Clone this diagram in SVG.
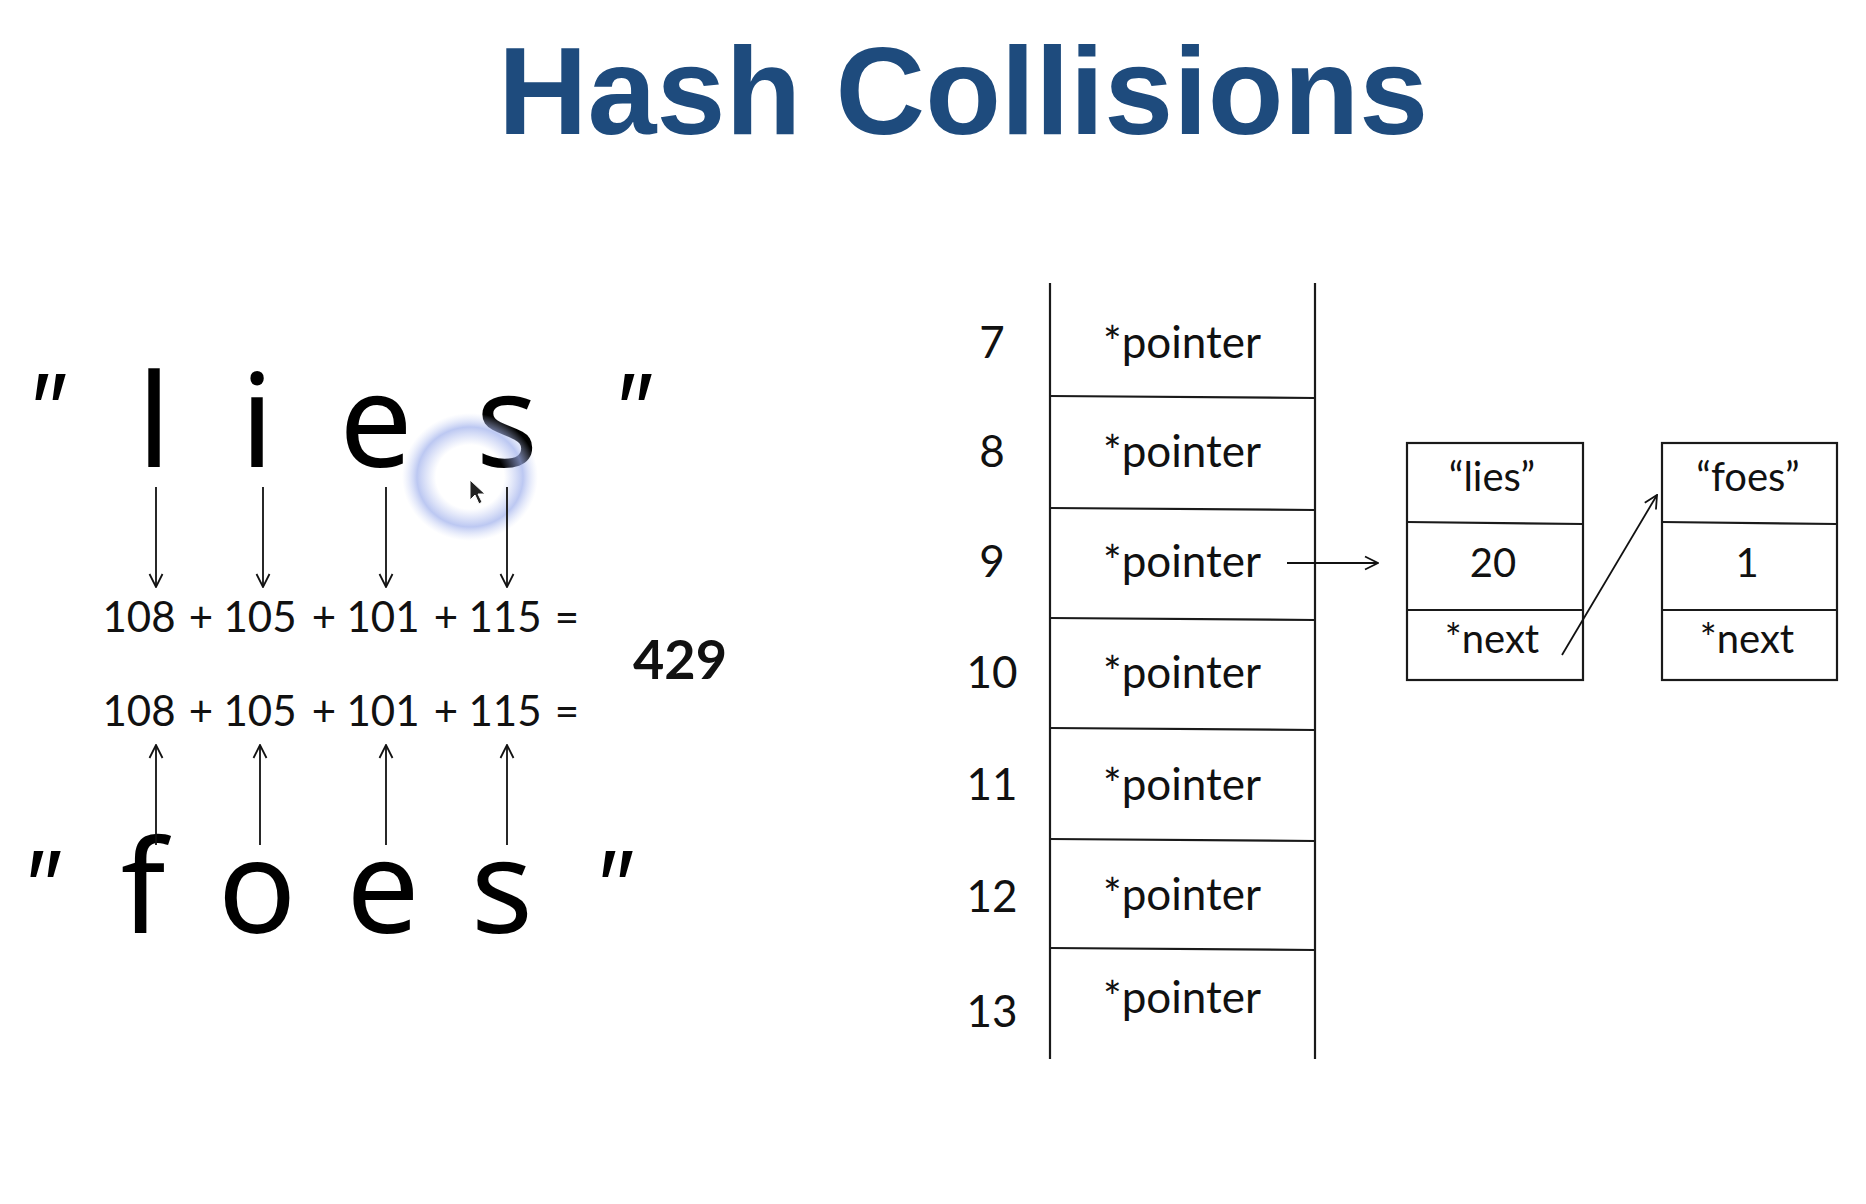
<svg xmlns="http://www.w3.org/2000/svg" width="1866" height="1204" viewBox="0 0 1866 1204">
<style>
.title{font-family:"Liberation Sans",Arial,sans-serif;font-weight:bold;font-size:124px;fill:#1e4b7d}
.big{font-family:"Noto Sans",sans-serif;font-size:130px;fill:#000;text-anchor:middle}
.q{font-family:"Noto Sans",sans-serif;font-size:100px;font-style:italic;fill:#000;text-anchor:middle}
.eq{font-family:Lato,"Noto Sans",sans-serif;font-size:42px;fill:#111;text-anchor:middle}
.res{font-family:Lato,"Noto Sans",sans-serif;font-size:54px;font-weight:bold;fill:#111}
.lbl{font-family:Lato,"Noto Sans",sans-serif;font-size:44px;fill:#111;text-anchor:middle}
.cell{font-family:Lato,"Noto Sans",sans-serif;font-size:40px;fill:#111;text-anchor:middle}
.ln{stroke:#1a1a1a;stroke-width:2.2;fill:none}
.ar{stroke:#111;stroke-width:1.8;fill:none;marker-end:url(#ah)}
</style>
<defs>
<marker id="ah" viewBox="0 0 16 16" refX="15" refY="8" markerWidth="16" markerHeight="16" orient="auto" markerUnits="userSpaceOnUse">
<path d="M2,1.5 L15,8 L2,14.5" fill="none" stroke="#111" stroke-width="1.8"/>
</marker>
<radialGradient id="glow" cx="0.5" cy="0.5" r="0.5">
<stop offset="0.5" stop-color="#aab8ee" stop-opacity="0"/>
<stop offset="0.78" stop-color="#9fb0ec" stop-opacity="0.7"/>
<stop offset="1" stop-color="#c8d2f5" stop-opacity="0"/>
</radialGradient>
</defs>
<rect width="1866" height="1204" fill="#fff"/>

<text class="title" x="963" y="134" text-anchor="middle">Hash Collisions</text>

<g id="word-lies">
<text class="q" x="44" y="446">"</text>
<text class="big" x="154" y="467">l</text>
<text class="big" x="257" y="467">i</text>
<text class="big" x="376" y="467">e</text>
<text class="big" x="507" y="467">s</text>
<text class="q" x="630" y="446">"</text>
</g>

<g id="cursor">
<ellipse cx="470" cy="477" rx="68" ry="64" fill="url(#glow)"/>
<path d="M470,480 L470,500 L475,495 L479,504 L482,502 L478,494 L485,494 Z" fill="#222" stroke="#fff" stroke-width="1"/>
</g>

<g id="sum-lies">
<text class="eq" y="632"><tspan x="139">108</tspan><tspan x="201">+</tspan><tspan x="260">105</tspan><tspan x="324">+</tspan><tspan x="383">101</tspan><tspan x="446">+</tspan><tspan x="505">115</tspan><tspan x="567">=</tspan></text>
</g>
<g id="sum-foes">
<text class="eq" y="726"><tspan x="139">108</tspan><tspan x="201">+</tspan><tspan x="260">105</tspan><tspan x="324">+</tspan><tspan x="383">101</tspan><tspan x="446">+</tspan><tspan x="505">115</tspan><tspan x="567">=</tspan></text>
</g>
<g id="result">
<text class="res" x="633" y="679">429</text>
</g>

<g id="word-foes">
<text class="q" x="39" y="923">"</text>
<text class="big" x="143" y="933">f</text>
<text class="big" x="257" y="933">o</text>
<text class="big" x="383" y="933">e</text>
<text class="big" x="502" y="933">s</text>
<text class="q" x="611" y="923">"</text>
</g>

<g id="table">
<line class="ln" x1="1050" y1="283" x2="1050" y2="1059"/>
<line class="ln" x1="1315" y1="283" x2="1315" y2="1059"/>
<line class="ln" x1="1050" y1="396" x2="1315" y2="398"/>
<line class="ln" x1="1050" y1="508" x2="1315" y2="510"/>
<line class="ln" x1="1050" y1="618" x2="1315" y2="620"/>
<line class="ln" x1="1050" y1="728" x2="1315" y2="730"/>
<line class="ln" x1="1050" y1="839" x2="1315" y2="841"/>
<line class="ln" x1="1050" y1="948" x2="1315" y2="950"/>
</g>
<g id="row-7"><text class="lbl" x="992" y="358">7</text><text class="lbl" x="1182" y="358">*pointer</text></g>
<g id="row-8"><text class="lbl" x="992" y="467">8</text><text class="lbl" x="1182" y="467">*pointer</text></g>
<g id="row-9"><text class="lbl" x="992" y="577">9</text><text class="lbl" x="1182" y="577">*pointer</text></g>
<g id="row-10"><text class="lbl" x="992" y="688">10</text><text class="lbl" x="1182" y="688">*pointer</text></g>
<g id="row-11"><text class="lbl" x="992" y="800">11</text><text class="lbl" x="1182" y="800">*pointer</text></g>
<g id="row-12"><text class="lbl" x="992" y="912">12</text><text class="lbl" x="1182" y="910">*pointer</text></g>
<g id="row-13"><text class="lbl" x="992" y="1027">13</text><text class="lbl" x="1182" y="1013">*pointer</text></g>

<g id="node-lies">
<rect class="ln" x="1407" y="443" width="176" height="237"/>
<line class="ln" x1="1407" y1="522" x2="1583" y2="524"/>
<line class="ln" x1="1407" y1="610" x2="1583" y2="610"/>
<text class="cell" x="1492" y="491">“lies”</text>
<text class="cell" x="1493" y="577">20</text>
<text class="cell" x="1492" y="653">*next</text>
</g>
<g id="node-foes">
<rect class="ln" x="1662" y="443" width="175" height="237"/>
<line class="ln" x1="1662" y1="522" x2="1837" y2="524"/>
<line class="ln" x1="1662" y1="610" x2="1837" y2="610"/>
<text class="cell" x="1748" y="491">“foes”</text>
<text class="cell" x="1747" y="577">1</text>
<text class="cell" x="1747" y="653">*next</text>
</g>

<g id="connectors">
<line class="ar" x1="156" y1="487" x2="156" y2="587"/>
<line class="ar" x1="263" y1="487" x2="263" y2="587"/>
<line class="ar" x1="386" y1="487" x2="386" y2="587"/>
<line class="ar" x1="507" y1="487" x2="507" y2="587"/>
<line class="ar" x1="156" y1="845" x2="156" y2="745"/>
<line class="ar" x1="260" y1="845" x2="260" y2="745"/>
<line class="ar" x1="386" y1="845" x2="386" y2="745"/>
<line class="ar" x1="507" y1="845" x2="507" y2="745"/>
<line class="ar" x1="1287" y1="563" x2="1378" y2="563"/>
<line class="ar" x1="1562" y1="655" x2="1657" y2="495"/>
</g>
</svg>
